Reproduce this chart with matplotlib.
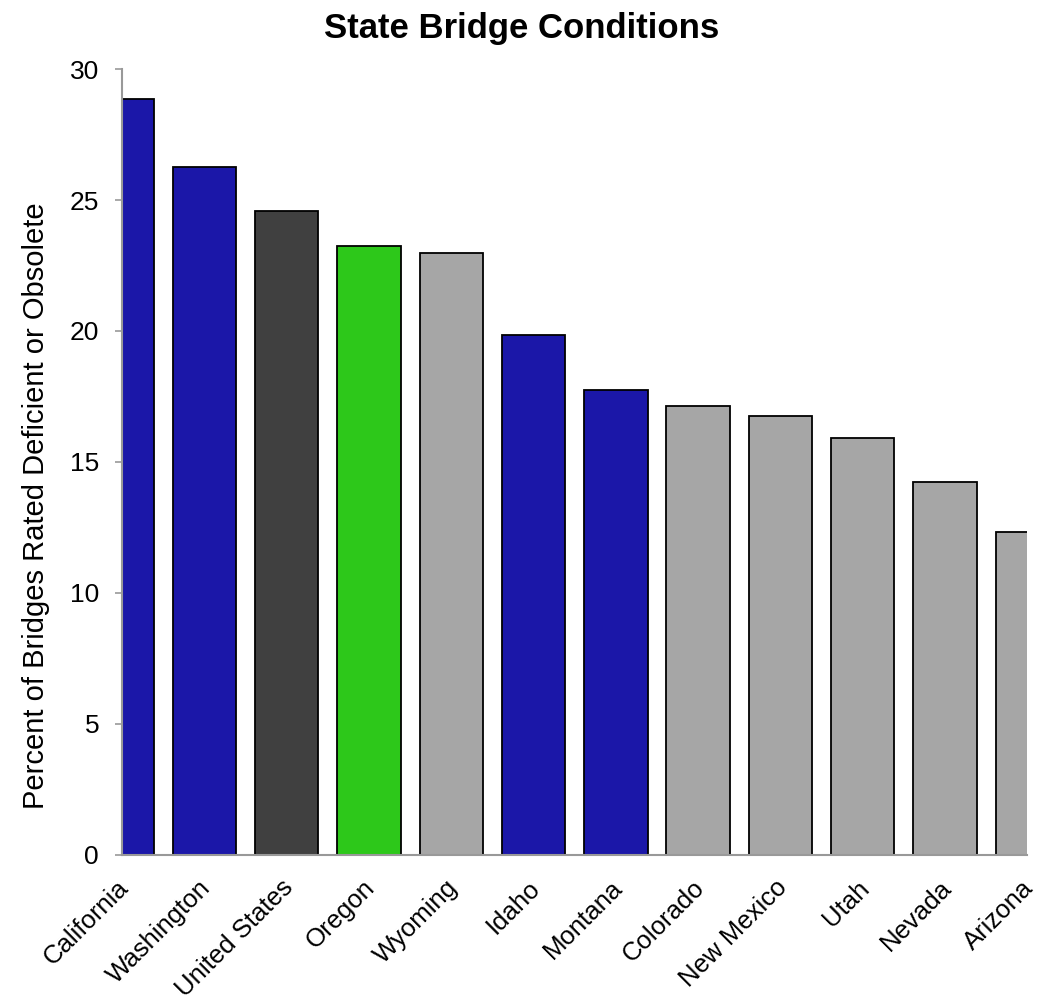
import matplotlib
matplotlib.use("Agg")
import matplotlib.pyplot as plt
from matplotlib.transforms import ScaledTranslation

# ── data ─────────────────────────────────────────────────────────────────────
states = ["California", "Washington", "United States", "Oregon", "Wyoming",
          "Idaho", "Montana", "Colorado", "New Mexico", "Utah", "Nevada", "Arizona"]
pct_deficient = [28.85, 26.26, 24.58, 23.24, 22.98, 19.85,
                 17.75, 17.14, 16.76, 15.92, 14.24, 12.33]
group = ["focus", "focus", "national", "home", "other", "focus",
         "focus", "other", "other", "other", "other", "other"]

BLUE = "#1b17a8"
DARK = "#404040"
GREEN = "#2dc81a"
GRAY = "#a6a6a6"
AXIS = "#999999"
color_map = {"focus": BLUE, "national": DARK, "home": GREEN, "other": GRAY}

plt.rcParams["font.family"] = ["Liberation Sans", "DejaVu Sans"]

fig = plt.figure(figsize=(10.43, 10.01), dpi=100)
ax = fig.add_axes([0.117, 0.146, 0.868, 0.785])

xs = list(range(len(states)))
ax.bar(xs, pct_deficient, width=0.77, color=[color_map[g] for g in group],
       edgecolor="black", linewidth=1.3, zorder=2)

ax.set_xlim(0, len(states) - 1)
ax.set_ylim(0, 30)
ax.set_yticks([0, 5, 10, 15, 20, 25, 30])
ax.set_xticks(xs)
ax.set_xticklabels(states, rotation=45, ha="right", va="top",
                   rotation_mode="anchor", fontsize=18.5)
ax.tick_params(axis="y", labelsize=19, length=5, width=1.2, color=AXIS,
               direction="out", pad=11.5)
ax.tick_params(axis="x", length=0, pad=15)

# nudge the slanted labels left so they end at the bar centre
shift = ScaledTranslation(-6 / 100, 0, fig.dpi_scale_trans)
for lbl in ax.get_xticklabels():
    lbl.set_transform(lbl.get_transform() + shift)

for side in ("top", "right"):
    ax.spines[side].set_visible(False)
for side in ("left", "bottom"):
    ax.spines[side].set_color(AXIS)
    ax.spines[side].set_linewidth(1.5)

ax.set_ylabel("Percent of Bridges Rated Deficient or Obsolete", fontsize=21)
ax.yaxis.set_label_coords(-0.08, 0.444)
fig.suptitle("State Bridge Conditions", fontsize=25, fontweight="bold",
             y=0.988)

fig.savefig("out.png", dpi=100, facecolor="white")
